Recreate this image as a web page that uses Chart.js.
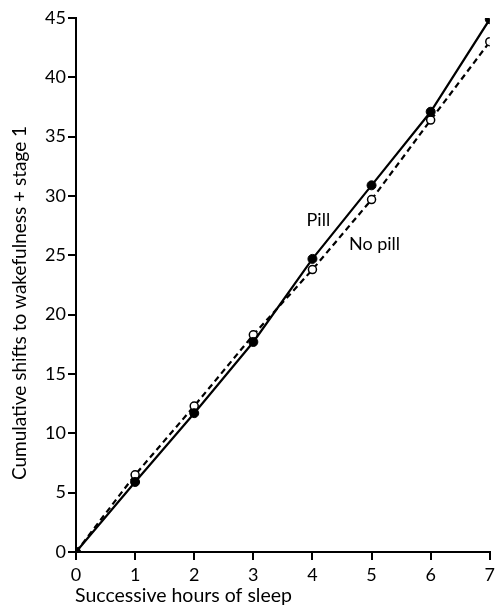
<!DOCTYPE html>
<html lang="en">
<head>
  <meta charset="UTF-8">
  <title>Cumulative shifts to wakefulness + stage 1</title>
  <script src="https://cdn.jsdelivr.net/npm/chart.js"></script>
  <style>
    html, body { margin: 0; padding: 0; background: #fff; }
    #wrap { width: 499px; height: 608px; }
  </style>
</head>
<body>
  <div id="wrap"><canvas id="sleepChart" width="499" height="608"></canvas></div>

  <script>
    // data
    const hours = [0, 1, 2, 3, 4, 5, 6, 7];
    const pillValues = [0, 5.9, 11.7, 17.7, 24.7, 30.9, 37.1, 44.9];
    const noPillValues = [0, 6.5, 12.3, 18.3, 23.8, 29.7, 36.4, 43.0];
    const yTicks = [0, 5, 10, 15, 20, 25, 30, 35, 40, 45];
    const xTicks = [0, 1, 2, 3, 4, 5, 6, 7];

    // line labels placed in data units
    const lineLabels = [
      { text: 'Pill', x: 4.1, y: 28.0 },
      { text: 'No pill', x: 5.05, y: 25.9 }
    ];

    const FONT = 'Lato, "Open Sans", sans-serif';

    function toPoints(vals) {
      return hours.map((h, i) => ({ x: h, y: vals[i] }));
    }

    // draws axis titles and the line labels
    const textPlugin = {
      id: 'texts',
      afterDraw(chart) {
        const ctx = chart.ctx;
        const xs = chart.scales.x, ys = chart.scales.y;
        ctx.save();
        ctx.fillStyle = '#000';
        ctx.font = '18px ' + FONT;
        ctx.textBaseline = 'middle';
        ctx.textAlign = 'center';
        lineLabels.forEach(l => {
          ctx.fillText(l.text, xs.getPixelForValue(l.x), ys.getPixelForValue(l.y));
        });

        // x title, left aligned under the axis
        ctx.textAlign = 'left';
        ctx.font = '19.5px ' + FONT;
        ctx.fillText('Successive hours of sleep', xs.left - 1, 596);

        // y title, rotated
        ctx.translate(20, 303);
        ctx.rotate(-Math.PI / 2);
        ctx.textAlign = 'center';
        ctx.font = '19px ' + FONT;
        ctx.fillText('Cumulative shifts to wakefulness + stage 1', 0, 0);
        ctx.restore();
      }
    };

    new Chart(document.getElementById('sleepChart').getContext('2d'), {
      type: 'line',
      data: {
        datasets: [
          {
            label: 'Pill',
            data: toPoints(pillValues),
            borderColor: '#000',
            borderWidth: 2.2,
            pointRadius: 4.5,
            pointBackgroundColor: '#000',
            pointBorderColor: '#000',
            pointBorderWidth: 1,
            tension: 0
          },
          {
            label: 'No pill',
            data: toPoints(noPillValues),
            borderColor: '#000',
            borderWidth: 2.2,
            borderDash: [6, 4],
            pointRadius: 4,
            pointBackgroundColor: '#fff',
            pointBorderColor: '#000',
            pointBorderWidth: 1.5,
            tension: 0
          }
        ]
      },
      options: {
        responsive: false,
        animation: false,
        layout: { padding: { top: 18, right: 4, left: 0, bottom: 0 } },
        plugins: {
          legend: { display: false },
          tooltip: { enabled: false }
        },
        scales: {
          x: {
            type: 'linear',
            min: 0,
            max: 7,
            afterFit(scale) { scale.height = 56; },
            afterBuildTicks(scale) { scale.ticks = xTicks.map(v => ({ value: v })); },
            grid: { drawOnChartArea: false, drawTicks: true, tickLength: 8, color: '#000', lineWidth: 2 },
            border: { display: true, color: '#000', width: 2 },
            ticks: { color: '#000', padding: 4, font: { family: FONT, size: 18 } }
          },
          y: {
            min: 0,
            max: 45,
            afterFit(scale) { scale.width = 76; },
            afterBuildTicks(scale) { scale.ticks = yTicks.map(v => ({ value: v })); },
            grid: { drawOnChartArea: false, drawTicks: true, tickLength: 8, color: '#000', lineWidth: 2 },
            border: { display: true, color: '#000', width: 2 },
            ticks: { color: '#000', padding: 2, font: { family: FONT, size: 18 } }
          }
        }
      },
      plugins: [textPlugin]
    });
  </script>
</body>
</html>
